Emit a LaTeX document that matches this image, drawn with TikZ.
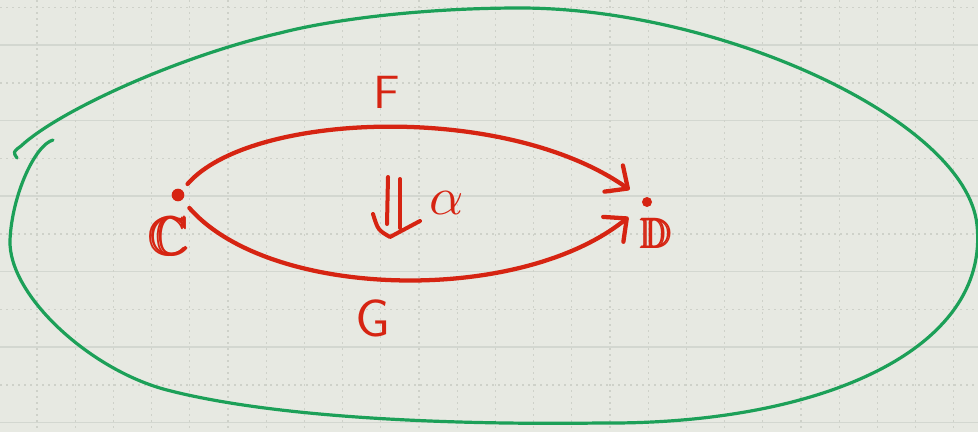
\documentclass[tikz,border=0pt]{standalone}
\usepackage{amssymb}
\usepackage{amsbsy}
\usetikzlibrary{arrows.meta}
\definecolor{paper}{RGB}{231,233,226}
\definecolor{gridsolid}{RGB}{211,215,208}
\definecolor{griddot}{RGB}{206,209,201}
\definecolor{redink}{RGB}{214,36,18}
\definecolor{greenink}{RGB}{28,160,88}
\tikzset{
  dotnode/.style={circle, fill=redink, inner sep=0pt},
  lab/.style={text=redink, inner sep=0pt},
  redarrow/.style={draw=redink, line width=3.2pt, line cap=round, line join=round,
     -{Straight Barb[length=13pt,width=24pt,line cap=round,line join=round]}},
  twocell/.style={draw=redink, line width=3pt, line cap=round, line join=round},
  encl/.style={draw=greenink, line width=2.4pt, line cap=round, line join=round},
}
\begin{document}
\begin{tikzpicture}[x=0.75pt,y=-0.75pt]
\useasboundingbox (0,0) rectangle (978,432);
\fill[paper] (0,0) rectangle (978,432);
% grid paper
\foreach \y in {45,120.5,...,432} \draw[gridsolid, line width=1.1pt] (0,\y) -- (978,\y);
\foreach \y in {7.5,83,...,432} \draw[griddot, line width=1pt, dash pattern=on 1.5pt off 3pt] (0,\y) -- (978,\y);
\foreach \x in {37,75.2,...,978} \draw[griddot, line width=0.9pt, dash pattern=on 1.5pt off 3pt] (\x,0) -- (\x,432);

% green enclosing curve
\draw[encl] (53,140) .. controls (35,145) and (12,195) .. (10,240)
  .. controls (8,295) and (90,370) .. (167,390)
  .. controls (275,418) and (450,425) .. (600,423)
  .. controls (820,425) and (990,350) .. (977,225)
  .. controls (966,120) and (720,8) .. (520,8)
  .. controls (420,8) and (330,20) .. (280,33)
  .. controls (180,56) and (60,110) .. (21,146)
  .. controls (13,152) .. (17,158);

% objects
\node[dotnode, minimum size=9.5pt] (c) at (178,195) {};
\node[dotnode, minimum size=7.5pt] (d) at (647,202) {};
\node[lab, scale=4.1] (cl) at (170,236) {$\pmb{\mathbb{C}}$};
\node[lab, scale=3.2] (dl) at (657,233) {$\pmb{\mathbb{D}}$};

% 1-cells
\draw[redarrow, shorten <=6pt, shorten >=12pt] (c) .. controls (250,112) and (505,102) .. (d);
\draw[redarrow, shorten <=8pt, shorten >=14pt] (c) .. controls (270,300) and (520,305) .. (d);
\node[lab, scale=3.5, font=\sffamily] (fl) at (387,92) {F};
\node[lab, scale=3.9, font=\sffamily] (gl) at (373,318) {G};

% 2-cell
\coordinate (a1) at (388,177);
\coordinate (a2) at (387,224);
\coordinate (b1) at (400,179);
\coordinate (b2) at (400,228);
\coordinate (t1) at (373,214);
\coordinate (t0) at (390,237);
\coordinate (t2) at (420,221);
\draw[twocell] (a1) -- (a2);
\draw[twocell] (b1) -- (b2);
\draw[twocell] (t1) .. controls (378,230) .. (t0) -- (t2);
\node[lab, scale=4] (al) at (447,203) {$\alpha$};
\end{tikzpicture}
\end{document}
